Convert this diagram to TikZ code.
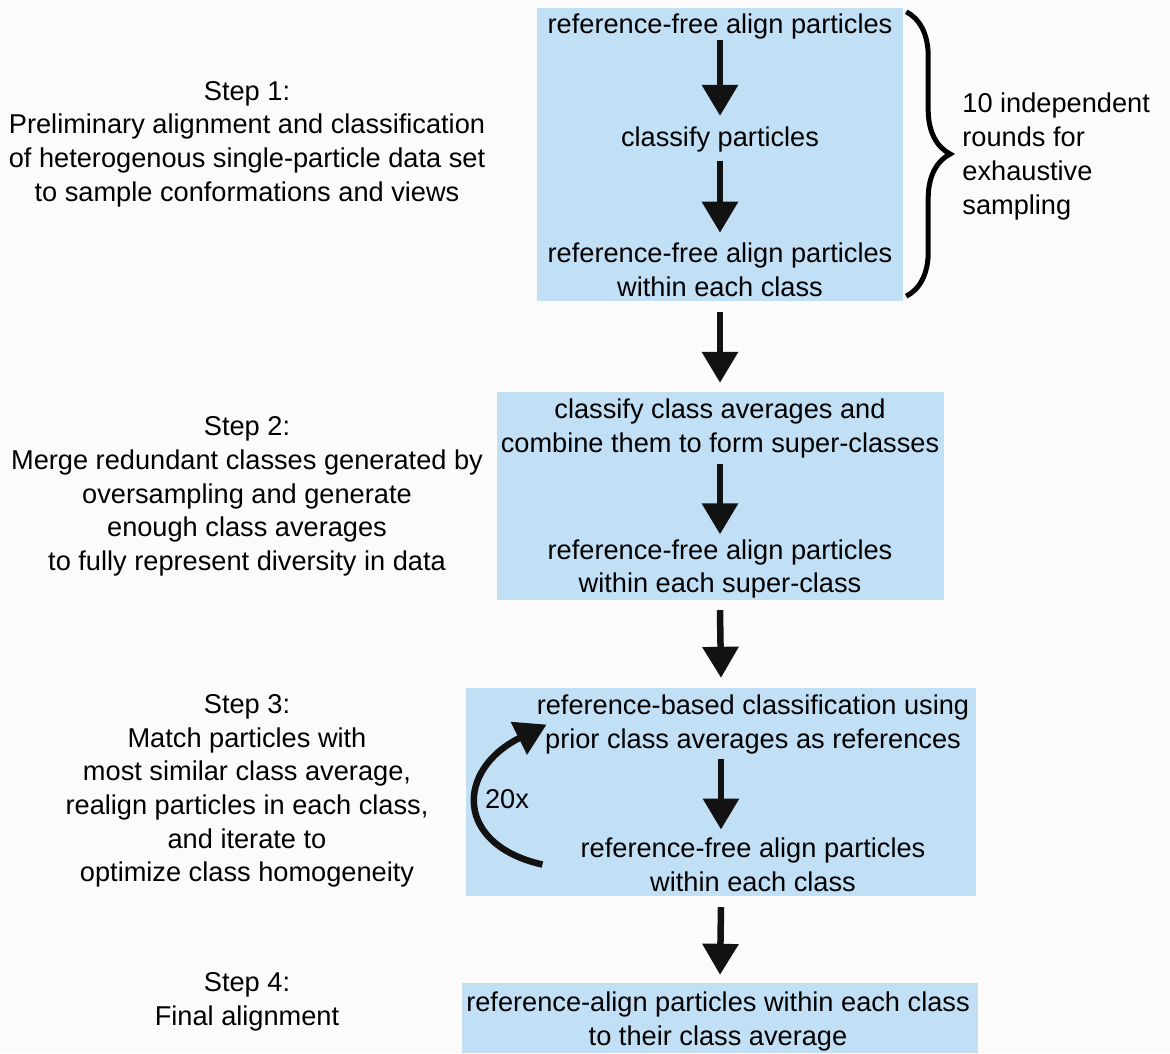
\documentclass[tikz,border=0pt]{standalone}
\usepackage{fontspec}
\setmainfont{Liberation Sans}
\usetikzlibrary{positioning, arrows.meta, decorations.pathreplacing}
\definecolor{stepblue}{RGB}{193,223,245}
\definecolor{paper}{RGB}{251,251,251}

\begin{document}
\begin{tikzpicture}[x=1pt, y=-1pt,
    every node/.style={font=\fontsize{27.2}{33.7}\selectfont, inner sep=0pt,
      align=center},
    stepbox/.style={fill=stepblue, inner sep=0pt},
    flow/.style={-{Triangle[width=35pt, length=31pt]}, line width=6.5pt,
      draw=black!93}]
    \fill [paper] (0,0) rectangle (1170,1053);%
    \useasboundingbox (0,0) rectangle (1170,1053);%

    % Step 1
    \node [stepbox, minimum width=366pt, minimum height=293pt] (Box1) at
    (720,154.5) {};%
    \node [below=6pt of Box1.north] (T1a) {reference-free align particles};%
    \node [on grid, below=113pt of T1a] (T1b) {classify particles};%
    \node [on grid, below=130pt of T1b] (T1c) {reference-free align
      particles\\within each class};%
    \node (S1) at (247,144) {Step 1:\\Preliminary alignment and
      classification\\of heterogenous single-particle data set\\to sample
      conformations and views};%
    % -- brace
    \draw [line width=5pt, decorate, decoration={brace, amplitude=44pt}]
    ([xshift=3pt, yshift=-4pt]Box1.north east) -- ([xshift=3pt,
    yshift=5pt]Box1.south east);%
    \coordinate [right=47pt of Box1.east] (BraceTip);%
    \node [right=12pt of BraceTip, yshift=-2pt, align=left] (Rounds) {10
      independent\\rounds for\\exhaustive\\sampling};%

    % Step 2
    \node [stepbox, minimum width=447pt, minimum height=208pt] (Box2) at
    (720,496) {};%
    \node [below=7pt of Box2.north] (T2a) {classify class averages
      and\\combine them to form super-classes};%
    \node [on grid, below=140.5pt of T2a] (T2b) {reference-free align
      particles\\within each super-class};%
    \node (S2) at (247,496.5) {Step 2:\\Merge redundant classes generated
      by\\oversampling and generate\\enough class averages\\to fully represent
      diversity in data};%

    % Step 3
    \node [stepbox, minimum width=510pt, minimum height=208pt] (Box3) at
    (721,792) {};%
    \node [below=7pt of Box3.north, xshift=32pt] (T3a) {reference-based
      classification using\\prior class averages as references};%
    \node [on grid, below=140pt of T3a] (T3b) {reference-free align
      particles\\within each class};%
    \node (S3) at (247,791) {Step 3:\\Match particles with\\most similar class
      average,\\realign particles in each class,\\and iterate to\\optimize
      class homogeneity};%
    % -- loop
    \coordinate [left=38pt of T3b.west, yshift=0pt] (LoopStart);%
    \coordinate [right=10pt of T3a.west] (LoopEnd);%
    \node (Iter) at (507,799) {20x};%

    % Step 4
    \node [stepbox, minimum width=516pt, minimum height=70pt] (Box4) at
    (720,1018) {};%
    \node [below=9pt of Box4.north, xshift=-2pt] (T4) {reference-align
      particles within each class\\to their class average};%
    \node (S4) at (247,1001.5) {Step 4:\\Final alignment};%

    % arrows
    \draw [flow] (T1a.south) -- ([yshift=11pt]T1b.north);%
    \draw [flow] ([yshift=-8pt]T1b.south) -- ([yshift=10pt]T1c.north);%
    \draw [flow] ([yshift=-11pt]Box1.south) -- ([yshift=9pt]Box2.north);%
    \draw [flow] ([yshift=-6pt]T2a.south) -- ([yshift=5pt]T2b.north);%
    \draw [flow] ([yshift=-10pt]Box2.south) -- ([yshift=10pt]Box3.north);%
    \draw [flow] ([yshift=-5pt, xshift=-32pt]T3a.south) -- ([yshift=8pt,
    xshift=-32pt]T3b.north);%
    \draw [flow] ([yshift=-11pt]Box3.south) -- ([yshift=8pt]Box4.north);%
    \draw [flow] (LoopStart) .. controls (455,845) and (455,770) ..
    (LoopEnd);
  \end{tikzpicture}
\end{document}
